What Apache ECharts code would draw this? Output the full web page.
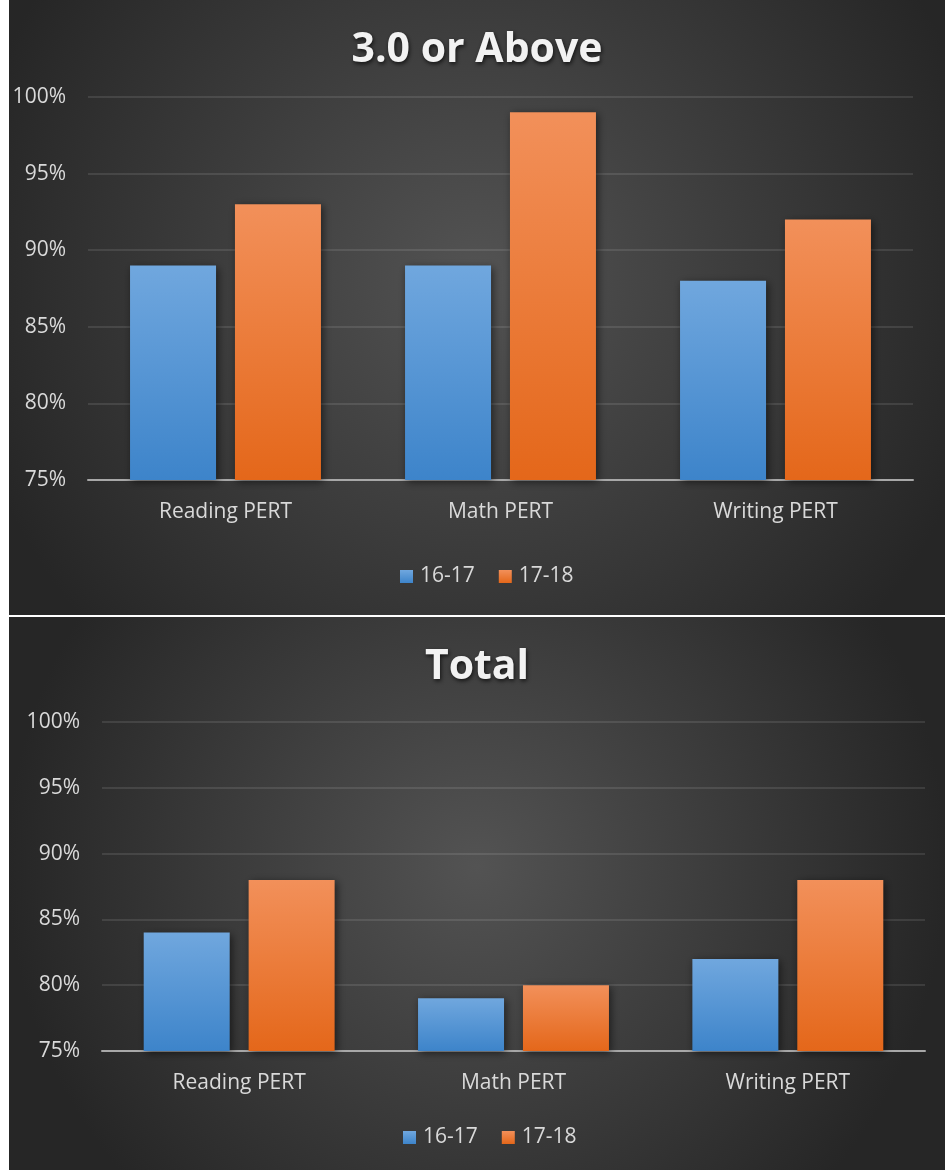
<!DOCTYPE html>
<html>
<head>
<meta charset="utf-8">
<script src="https://cdn.jsdelivr.net/npm/echarts@6/dist/echarts.min.js"></script>
<style>
  html, body { margin: 0; padding: 0; background: #ffffff; width: 945px; height: 1170px; overflow: hidden; }
  #c1 { position: absolute; left: 9px; top: 0px; width: 936px; height: 615px; }
  #c2 { position: absolute; left: 9px; top: 617px; width: 936px; height: 553px; }
</style>
</head>
<body>
<div id="c1"></div>
<div id="c2"></div>
<script>
const categories = ['Reading PERT', 'Math PERT', 'Writing PERT'];
const seriesNames = ['16-17', '17-18'];
const above_1617 = [89, 89, 88];
const above_1718 = [93, 99, 92];
const total_1617 = [84, 79, 82];
const total_1718 = [88, 80, 88];
const yMin = 75, yMax = 100, yStep = 5;

const FONT = '"Open Sans", "Liberation Sans", sans-serif';
const textCol = '#d9d9d9';

const blueGrad = new echarts.graphic.LinearGradient(0, 0, 0, 1, [
  { offset: 0, color: '#70a7de' }, { offset: 1, color: '#3d84ca' }
]);
const orangeGrad = new echarts.graphic.LinearGradient(0, 0, 0, 1, [
  { offset: 0, color: '#f2905a' }, { offset: 1, color: '#e4671a' }
]);

function bg() {
  return {
    type: 'radial', x: 0.5, y: 0.45, r: 0.85,
    colorStops: [{ offset: 0, color: '#535353' }, { offset: 1, color: '#262626' }]
  };
}

function makeOption(title, d1, d2, grid, legendLeft, legendBottom) {
  const barStyle = (c) => ({
    color: c, shadowColor: 'rgba(0,0,0,0.55)', shadowBlur: 8, shadowOffsetX: 2, shadowOffsetY: 2
  });
  return {
    backgroundColor: bg(),
    animation: false,
    title: {
      text: title, left: 'center', top: 25,
      textStyle: {
        color: '#f2f2f2', fontFamily: FONT, fontWeight: 'bold', fontSize: 41,
        textShadowColor: 'rgba(0,0,0,0.7)', textShadowBlur: 4, textShadowOffsetX: 1, textShadowOffsetY: 2
      }
    },
    legend: {
      bottom: legendBottom, left: legendLeft,
      itemWidth: 13, itemHeight: 13, itemGap: 24,
      icon: 'rect',
      textStyle: { color: textCol, fontFamily: FONT, fontSize: 21, padding: [0, 0, 0, 2] },
      data: seriesNames
    },
    grid: grid,
    xAxis: {
      type: 'category', data: categories,
      axisLine: { lineStyle: { color: '#a8a8a8', width: 2 } },
      axisTick: { show: false },
      axisLabel: { color: textCol, fontFamily: FONT, fontSize: 21, margin: 22 },
      splitLine: { show: false }
    },
    yAxis: {
      type: 'value', min: yMin, max: yMax, interval: yStep,
      axisLine: { show: false }, axisTick: { show: false },
      axisLabel: { color: textCol, fontFamily: FONT, fontSize: 21, margin: 22, formatter: '{value}%' },
      splitLine: { lineStyle: { color: 'rgba(255,255,255,0.1)', width: 2 } }
    },
    series: [
      { name: seriesNames[0], type: 'bar', data: d1, barWidth: 86, barGap: '22%',
        itemStyle: barStyle(blueGrad) },
      { name: seriesNames[1], type: 'bar', data: d2, barWidth: 86,
        itemStyle: barStyle(orangeGrad) }
    ]
  };
}

const ch1 = echarts.init(document.getElementById('c1'), null, { renderer: 'canvas' });
ch1.setOption(makeOption('3.0 or Above', above_1617, above_1718,
  { left: 79, right: 32, top: 97, bottom: 135, containLabel: false }, 386, 23));
const ch2 = echarts.init(document.getElementById('c2'), null, { renderer: 'canvas' });
ch2.setOption(makeOption('Total', total_1617, total_1718,
  { left: 93, right: 20, top: 105, bottom: 119, containLabel: false }, 389, 17));
</script>
</body>
</html>
